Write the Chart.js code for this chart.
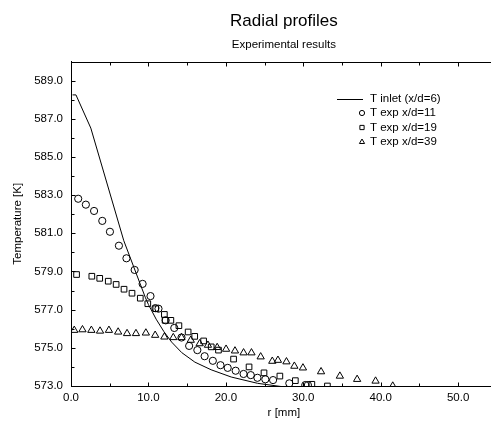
<!DOCTYPE html>
<html>
<head>
<meta charset="utf-8">
<script src="https://cdn.jsdelivr.net/npm/chart.js@4.4.0/dist/chart.umd.min.js"></script>
<style>
  html, body { margin: 0; padding: 0; overflow: hidden; background: #fff; }
  #wrap { width: 502px; height: 423px; position: relative; }
</style>
</head>
<body>
<div id="wrap"><canvas id="c" width="502" height="423"></canvas></div>
<script>
// Radial temperature profiles: inlet profile (line) and measurements at three stations.
const inletR = [0.2, 0.64, 2.56, 6.82, 9.59, 10.0, 11.0, 12.0, 13.0, 14.3, 16.0, 18.1, 20.7, 24.1, 27.0, 30.0];
const inletT = [588.25, 588.25, 586.51, 580.61, 577.65, 577.27, 576.5, 575.85, 575.3, 574.75, 574.25, 573.85, 573.47, 573.14, 572.98, 572.85];

const exp11R = [0.93, 1.92, 2.98, 4.04, 5.03, 6.19, 7.16, 8.22, 9.25, 10.27, 10.9, 11.3, 12.23, 13.34, 14.27, 15.26, 16.32, 17.26, 18.32, 19.31, 20.24, 21.27, 22.29, 23.22, 24.08, 25.1, 26.1, 28.2, 30.26, 30.6];
const exp11T = [582.81, 582.5, 582.17, 581.65, 581.08, 580.35, 579.69, 579.08, 578.35, 577.71, 577.08, 577.05, 576.44, 576.04, 575.54, 575.1, 574.88, 574.56, 574.32, 574.09, 573.95, 573.8, 573.63, 573.57, 573.43, 573.35, 573.31, 573.14, 573.05, 573.05];

const exp19R = [0.72, 2.69, 3.71, 4.81, 5.83, 6.85, 7.88, 8.95, 9.92, 10.95, 12.06, 12.15, 12.9, 13.94, 15.13, 15.98, 17.13, 18.11, 19.05, 21.0, 23.0, 24.93, 26.98, 28.98, 31.11, 33.12];
const exp19T = [578.84, 578.75, 578.64, 578.49, 578.32, 578.07, 577.86, 577.6, 577.31, 577.05, 576.75, 576.44, 576.44, 576.16, 575.83, 575.6, 575.36, 575.05, 574.88, 574.41, 574.0, 573.69, 573.52, 573.28, 573.09, 573.0];

const exp39R = [0.42, 1.48, 2.63, 3.75, 4.9, 6.09, 7.24, 8.39, 9.67, 10.87, 12.06, 13.21, 14.27, 15.47, 16.62, 17.69, 18.88, 20.03, 21.18, 22.29, 23.31, 24.5, 26.0, 26.73, 27.83, 28.85, 29.96, 32.3, 34.73, 36.96, 39.34, 41.56];
const exp39T = [575.92, 575.95, 575.92, 575.88, 575.92, 575.83, 575.75, 575.75, 575.78, 575.66, 575.57, 575.54, 575.54, 575.4, 575.22, 575.14, 575.02, 574.93, 574.84, 574.74, 574.74, 574.53, 574.3, 574.35, 574.27, 574.04, 573.95, 573.75, 573.52, 573.35, 573.26, 573.0];

const seriesLabels = ['T inlet (x/d=6)', 'T exp x/d=11', 'T exp x/d=19', 'T exp x/d=39'];
const xTickValues = [0, 10, 20, 30, 40, 50];
const yTickValues = [573, 575, 577, 579, 581, 583, 585, 587, 589];

const FONT = "'Liberation Sans', Arial, Helvetica, sans-serif";
Chart.defaults.font.family = FONT;
Chart.defaults.color = '#000';

const pairs = (rs, ts) => rs.map((r, i) => ({ x: r, y: ts[i] }));

// Frame on top plus inward tick marks on every drawn side.
const framePlugin = {
  id: 'frame',
  afterDraw(chart) {
    const { ctx, chartArea: a, scales: { x, y } } = chart;
    ctx.save();
    ctx.strokeStyle = '#000';
    ctx.lineWidth = 1;
    ctx.beginPath();
    const top = Math.round(a.top) + 0.5;
    const bottom = Math.round(a.bottom) + 0.5;
    const left = Math.round(a.left) + 0.5;
    ctx.moveTo(a.left, top);
    ctx.lineTo(a.right, top);
    for (let v = 0; v <= x.max; v += 5) {
      const px = Math.round(x.getPixelForValue(v)) + 0.5;
      const len = v % 10 === 0 ? 4 : 3;
      ctx.moveTo(px, bottom); ctx.lineTo(px, bottom - len);
      ctx.moveTo(px, top); ctx.lineTo(px, top + len);
    }
    for (let v = 573; v <= y.max; v += 1) {
      const py = Math.round(y.getPixelForValue(v)) + 0.5;
      const len = (v - 573) % 2 === 0 ? 4 : 3;
      ctx.moveTo(left, py); ctx.lineTo(left + len, py);
    }
    ctx.stroke();
    ctx.restore();
  }
};

// Legend in the upper right of the plot.
const legendPlugin = {
  id: 'boxLegend',
  afterDatasetsDraw(chart) {
    const { ctx } = chart;
    const x0 = 337, x1 = 363, markX = 362, textX = 370, y0 = 98.5, step = 14.5;
    ctx.save();
    ctx.font = '11.5px ' + FONT;
    ctx.textBaseline = 'middle';
    ctx.textAlign = 'left';
    chart.data.datasets.forEach((ds, i) => {
      const yy = y0 + i * step;
      ctx.strokeStyle = '#000';
      ctx.fillStyle = '#000';
      ctx.lineWidth = 1;
      if (ds.showLine) {
        ctx.beginPath();
        ctx.moveTo(x0, Math.round(yy) + 0.5);
        ctx.lineTo(x1, Math.round(yy) + 0.5);
        ctx.stroke();
      } else {
        ctx.fillStyle = 'rgba(0,0,0,0)';
        Chart.helpers.drawPoint(ctx, { pointStyle: ds.pointStyle, radius: ds.legendRadius, rotation: 0, borderWidth: 1 }, markX, yy);
        ctx.fillStyle = '#000';
      }
      ctx.fillText(ds.label, textX, yy);
    });
    ctx.restore();
  }
};

const markerBase = {
  showLine: false,
  borderColor: '#000',
  backgroundColor: 'rgba(0,0,0,0)',
  pointBorderWidth: 1,
  pointHoverRadius: 0
};

new Chart(document.getElementById('c'), {
  type: 'scatter',
  data: {
    datasets: [
      { label: seriesLabels[0], data: pairs(inletR, inletT), showLine: true, borderColor: '#000', borderWidth: 1, pointRadius: 0, tension: 0, fill: false },
      Object.assign({ label: seriesLabels[1], data: pairs(exp11R, exp11T), pointStyle: 'circle', pointRadius: 3.6, legendRadius: 2.6 }, markerBase),
      Object.assign({ label: seriesLabels[2], data: pairs(exp19R, exp19T), pointStyle: 'rect', pointRadius: 4.0, legendRadius: 3.0 }, markerBase),
      Object.assign({ label: seriesLabels[3], data: pairs(exp39R, exp39T), pointStyle: 'triangle', pointRadius: 4.2, legendRadius: 3.0 }, markerBase)
    ]
  },
  options: {
    responsive: false,
    animation: false,
    devicePixelRatio: 1,
    layout: { padding: 0 },
    plugins: {
      legend: { display: false },
      tooltip: { enabled: false },
      title: {
        display: true, text: 'Radial profiles', fullSize: false, color: '#000',
        font: { size: 17, weight: 'normal' }, padding: { top: 11, bottom: 4 }
      },
      subtitle: {
        display: true, text: 'Experimental results', fullSize: false, color: '#000',
        font: { size: 11.5, weight: 'normal' }, padding: { top: 3, bottom: 9.3 }
      }
    },
    scales: {
      x: {
        type: 'linear', position: 'bottom', min: 0, max: 55,
        grid: { display: false, drawTicks: false },
        border: { display: true, color: '#000', width: 1 },
        ticks: { font: { size: 11.5 }, color: '#000', padding: 4.5, maxRotation: 0, autoSkip: false, callback: v => v.toFixed(1) },
        afterBuildTicks: s => { s.ticks = xTickValues.map(v => ({ value: v })); },
        afterFit: s => { s.height = 37; },
        title: { display: true, text: 'r [mm]', font: { size: 11.5 }, color: '#000', padding: { top: 0, bottom: 3 } }
      },
      y: {
        type: 'linear', position: 'left', min: 573, max: 590,
        grid: { display: false, drawTicks: false },
        border: { display: true, color: '#000', width: 1 },
        ticks: { font: { size: 11.5 }, color: '#000', padding: 8, autoSkip: false, callback: v => v.toFixed(1) },
        afterBuildTicks: s => { s.ticks = yTickValues.map(v => ({ value: v })); },
        afterFit: s => { s.width = 71; },
        title: { display: true, text: 'Temperature [K]', font: { size: 11.5 }, color: '#000', padding: { top: 11, bottom: 0 } }
      }
    }
  },
  plugins: [framePlugin, legendPlugin]
});
</script>
</body>
</html>
